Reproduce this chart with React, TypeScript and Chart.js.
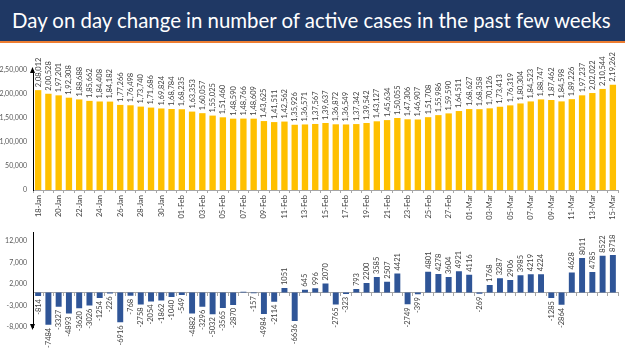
import React, { useEffect, useRef } from 'react';
import { Chart, registerables } from 'chart.js';
Chart.register(...registerables);

const titleText = 'Day on day change in number of active cases in the past few weeks';

const dates = [
  '18-Jan', '19-Jan', '20-Jan', '21-Jan', '22-Jan', '23-Jan', '24-Jan', '25-Jan', '26-Jan', '27-Jan',
  '28-Jan', '29-Jan', '30-Jan', '31-Jan', '01-Feb', '02-Feb', '03-Feb', '04-Feb', '05-Feb', '06-Feb',
  '07-Feb', '08-Feb', '09-Feb', '10-Feb', '11-Feb', '12-Feb', '13-Feb', '14-Feb', '15-Feb', '16-Feb',
  '17-Feb', '18-Feb', '19-Feb', '20-Feb', '21-Feb', '22-Feb', '23-Feb', '24-Feb', '25-Feb', '26-Feb',
  '27-Feb', '28-Feb', '01-Mar', '02-Mar', '03-Mar', '04-Mar', '05-Mar', '06-Mar', '07-Mar', '08-Mar',
  '09-Mar', '10-Mar', '11-Mar', '12-Mar', '13-Mar', '14-Mar', '15-Mar',
];

const activeCases = [
  208012, 200528, 197201, 192308, 188688, 185662, 184408, 184182, 177266, 176498,
  173740, 171686, 169824, 168784, 168235, 163353, 160057, 155025, 151460, 148590,
  148766, 148609, 143625, 141511, 142562, 135926, 136571, 137567, 139637, 136872,
  136549, 137342, 139542, 143127, 145634, 150055, 147306, 146907, 151708, 155986,
  159590, 164511, 168627, 168358, 170126, 173413, 176319, 180304, 184523, 188747,
  187462, 184598, 189226, 197237, 202022, 210544, 219262,
];

const dailyChange = [
  -814, -7484, -3327, -4893, -3620, -3026, -1254, -226, -6916, -768,
  -2758, -2054, -1862, -1040, -549, -4882, -3296, -5032, -3565, -2870,
  176, -157, -4984, -2114, 1051, -6636, 645, 996, 2070, -2765,
  -323, 793, 2200, 3585, 2507, 4421, -2749, -399, 4801, 4278,
  3604, 4921, 4116, -269, 1768, 3287, 2906, 3985, 4219, 4224,
  -1285, -2864, 4628, 8011, 4785, 8522, 8718,
];

const hiddenChangeLabels = ['07-Feb'];
const topTicks = [0, 50000, 100000, 150000, 200000, 250000];
const bottomTicks = [-8000, -3000, 2000, 7000, 12000];

const FONT = 'Lato, "Open Sans", "DejaVu Sans", sans-serif';

function indian(n: number): string {
  const s = Math.abs(Math.round(n)).toString();
  let last3 = s.slice(-3);
  let rest = s.slice(0, -3);
  if (rest) last3 = ',' + last3;
  rest = rest.replace(/\B(?=(\d{2})+(?!\d))/g, ',');
  return (n < 0 ? '-' : '') + rest + last3;
}

const valueLabels = {
  id: 'valueLabels',
  afterDatasetsDraw(chart: any, _args: any, opts: any) {
    const ctx = chart.ctx;
    const meta = chart.getDatasetMeta(0);
    const data = chart.data.datasets[0].data as number[];
    const labels = chart.data.labels as string[];
    ctx.save();
    ctx.font = opts.font;
    ctx.fillStyle = opts.color;
    meta.data.forEach((bar: any, i: number) => {
      if (opts.hidden && opts.hidden.includes(labels[i])) return;
      const v = data[i];
      const { x, y } = bar.getProps(['x', 'y'], true);
      ctx.save();
      ctx.translate(x, y + (v >= 0 ? -opts.offset : opts.offset));
      ctx.rotate(-Math.PI / 2);
      ctx.textBaseline = 'middle';
      ctx.textAlign = v >= 0 ? 'left' : 'right';
      ctx.fillText(opts.format(v), 0, 0);
      ctx.restore();
    });
    ctx.restore();
  },
};

const axisArrow = {
  id: 'axisArrow',
  afterDraw(chart: any, _args: any, opts: any) {
    const ctx = chart.ctx;
    const { left, top, bottom } = chart.chartArea;
    const x = Math.round(left) - 0.5;
    ctx.save();
    ctx.fillStyle = '#000';
    ctx.beginPath();
    if (opts.dir === 'up') {
      const ty = top - 3;
      ctx.moveTo(x, ty);
      ctx.lineTo(x - 2.5, ty + 6);
      ctx.lineTo(x + 2.5, ty + 6);
    } else {
      const ty = bottom + 3;
      ctx.moveTo(x, ty);
      ctx.lineTo(x - 2.5, ty - 6);
      ctx.lineTo(x + 2.5, ty - 6);
    }
    ctx.closePath();
    ctx.fill();
    ctx.restore();
  },
};

export default function App() {
  const topRef = useRef<HTMLCanvasElement>(null);
  const botRef = useRef<HTMLCanvasElement>(null);

  useEffect(() => {
    const top = new Chart(topRef.current!, {
      type: 'bar',
      data: {
        labels: dates,
        datasets: [{
          data: activeCases,
          backgroundColor: '#FFC000',
          barPercentage: 0.62,
          categoryPercentage: 1,
        }],
      },
      plugins: [valueLabels, axisArrow],
      options: {
        responsive: false,
        animation: false,
        layout: { padding: { top: 28, right: 7, left: 0, bottom: 0 } },
        plugins: {
          legend: { display: false },
          tooltip: { enabled: false },
          valueLabels: { font: `7.5px ${FONT}`, color: '#404040', offset: 3, format: (v: number) => indian(v) },
          axisArrow: { dir: 'up' },
        } as any,
        scales: {
          x: {
            grid: { drawOnChartArea: false, drawTicks: true, tickLength: 3, color: '#A6A6A6' },
            border: { display: true, color: '#A6A6A6' },
            ticks: {
              autoSkip: false,
              maxRotation: 90,
              minRotation: 90,
              padding: 2,
              color: '#404040',
              font: { size: 7.5, family: FONT },
              callback: (_v: any, i: number) => (i % 2 === 0 ? dates[i] : ''),
            },
            afterFit: (s: any) => { s.height = 38; },
          },
          y: {
            min: 0,
            max: 250000,
            afterBuildTicks: (s: any) => { s.ticks = topTicks.map((v) => ({ value: v })); },
            grid: { display: false, drawTicks: false },
            border: { display: true, color: '#000', width: 1 },
            ticks: {
              padding: 6,
              color: '#595959',
              font: { size: 7, family: FONT },
              callback: (v: any) => indian(Number(v)),
            },
            afterFit: (s: any) => { s.width = 33; },
          },
        },
      },
    });

    const bot = new Chart(botRef.current!, {
      type: 'bar',
      data: {
        labels: dates,
        datasets: [{
          data: dailyChange,
          backgroundColor: '#2F5597',
          barPercentage: 0.58,
          categoryPercentage: 1,
        }],
      },
      plugins: [valueLabels, axisArrow],
      options: {
        responsive: false,
        animation: false,
        layout: { padding: { top: 4, right: 7, left: 0, bottom: 24 } },
        plugins: {
          legend: { display: false },
          tooltip: { enabled: false },
          valueLabels: { font: `7.5px ${FONT}`, color: '#404040', offset: 3, format: (v: number) => String(v), hidden: hiddenChangeLabels },
          axisArrow: { dir: 'down' },
        } as any,
        scales: {
          x: {
            position: { y: 0 } as any,
            grid: { drawOnChartArea: false, drawTicks: true, tickLength: 3, color: '#A6A6A6' },
            border: { display: true, color: '#A6A6A6' },
            ticks: { display: false },
          },
          y: {
            min: -8000,
            max: 14000,
            afterBuildTicks: (s: any) => { s.ticks = bottomTicks.map((v) => ({ value: v })); },
            grid: { display: false, drawTicks: false },
            border: { display: true, color: '#000', width: 1 },
            ticks: {
              padding: 6,
              color: '#595959',
              font: { size: 7, family: FONT },
              callback: (v: any) => Number(v).toLocaleString('en-US'),
            },
            afterFit: (s: any) => { s.width = 33; },
          },
        },
      },
    });

    return () => {
      top.destroy();
      bot.destroy();
    };
  }, []);

  return (
    <div style={{ position: 'fixed', left: 0, top: 0, width: 625, height: 351, background: '#fff', overflow: 'hidden' }}>
      <div
        style={{
          position: 'absolute', left: 0, top: 0, width: 613, height: 41,
          background: '#1F3864', borderBottom: '2px solid #ED7D31',
          color: '#fff', fontFamily: FONT, fontSize: 20.4, lineHeight: '41px',
          paddingLeft: 12, boxSizing: 'content-box', whiteSpace: 'nowrap', overflow: 'hidden',
        }}
      >
        {titleText}
      </div>
      <canvas ref={topRef} width={625} height={186} style={{ position: 'absolute', left: 0, top: 42, width: 625, height: 186 }} />
      <canvas ref={botRef} width={625} height={129} style={{ position: 'absolute', left: 0, top: 222, width: 625, height: 129 }} />
    </div>
  );
}
